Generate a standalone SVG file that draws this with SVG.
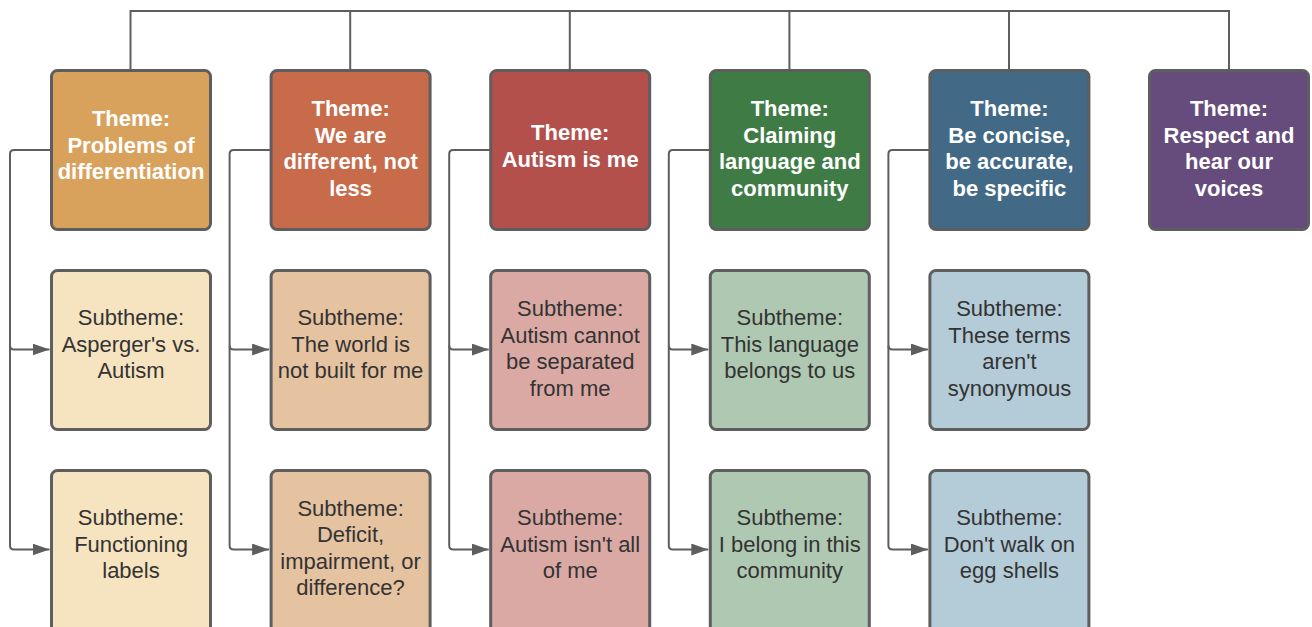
<svg xmlns="http://www.w3.org/2000/svg" width="1312" height="627" viewBox="0 0 1312 627">
<style>
.box{stroke:#5e5e5e;stroke-width:3}
.ln{fill:none;stroke:#5e5e5e;stroke-width:2}
.th{font-family:"Liberation Sans",Arial,sans-serif;font-weight:bold;font-size:22px;fill:#ffffff;text-anchor:middle}
.st{font-family:"Liberation Sans",Arial,sans-serif;font-size:22px;fill:#333333;text-anchor:middle}
</style>
<defs>
<marker id="arr" viewBox="0 0 17 12" refX="17" refY="6" markerWidth="17" markerHeight="12" markerUnits="userSpaceOnUse" orient="auto">
<path d="M0,0 L17,6 L0,12 z" fill="#5e5e5e"/>
</marker>
</defs>
<rect width="1312" height="627" fill="#ffffff"/>
<g id="connectors">
<path class="ln" d="M130.5,70 V11 H1229 V70"/>
<path class="ln" d="M350.2,11 V70 M569.8,11 V70 M789.4,11 V70 M1009,11 V70"/>
<path class="ln" d="M51,150 H14 Q10,150 10,154 V545.5 Q10,549.5 14,549.5 H49.5" marker-end="url(#arr)"/>
<path class="ln" d="M10,345.5 Q10,349.5 14,349.5 H49.5" marker-end="url(#arr)"/>
<path class="ln" d="M270.6,150 H233.6 Q229.6,150 229.6,154 V545.5 Q229.6,549.5 233.6,549.5 H269.1" marker-end="url(#arr)"/>
<path class="ln" d="M229.6,345.5 Q229.6,349.5 233.6,349.5 H269.1" marker-end="url(#arr)"/>
<path class="ln" d="M490.2,150 H453.2 Q449.2,150 449.2,154 V545.5 Q449.2,549.5 453.2,549.5 H488.7" marker-end="url(#arr)"/>
<path class="ln" d="M449.2,345.5 Q449.2,349.5 453.2,349.5 H488.7" marker-end="url(#arr)"/>
<path class="ln" d="M709.8,150 H672.8 Q668.8,150 668.8,154 V545.5 Q668.8,549.5 672.8,549.5 H708.3" marker-end="url(#arr)"/>
<path class="ln" d="M668.8,345.5 Q668.8,349.5 672.8,349.5 H708.3" marker-end="url(#arr)"/>
<path class="ln" d="M929.4,150 H892.4 Q888.4,150 888.4,154 V545.5 Q888.4,549.5 892.4,549.5 H927.9" marker-end="url(#arr)"/>
<path class="ln" d="M888.4,345.5 Q888.4,349.5 892.4,349.5 H927.9" marker-end="url(#arr)"/>
</g>
<g id="theme1">
<rect class="box" x="51.5" y="70.5" width="159" height="159" rx="6" fill="#d9a25c"/>
<text class="th" x="131" y="126">Theme:</text>
<text class="th" x="131" y="152.5">Problems of</text>
<text class="th" x="131" y="179">differentiation</text>
</g>
<g id="theme2">
<rect class="box" x="271.1" y="70.5" width="159" height="159" rx="6" fill="#c76b4b"/>
<text class="th" x="350.6" y="116">Theme:</text>
<text class="th" x="350.6" y="142.5">We are</text>
<text class="th" x="350.6" y="169">different, not</text>
<text class="th" x="350.6" y="195.5">less</text>
</g>
<g id="theme3">
<rect class="box" x="490.7" y="70.5" width="159" height="159" rx="6" fill="#b4504c"/>
<text class="th" x="570.2" y="140">Theme:</text>
<text class="th" x="570.2" y="166.5">Autism is me</text>
</g>
<g id="theme4">
<rect class="box" x="710.3" y="70.5" width="159" height="159" rx="6" fill="#3f7b45"/>
<text class="th" x="789.8" y="116">Theme:</text>
<text class="th" x="789.8" y="142.5">Claiming</text>
<text class="th" x="789.8" y="169">language and</text>
<text class="th" x="789.8" y="195.5">community</text>
</g>
<g id="theme5">
<rect class="box" x="929.9" y="70.5" width="159" height="159" rx="6" fill="#426a86"/>
<text class="th" x="1009.4" y="116">Theme:</text>
<text class="th" x="1009.4" y="142.5">Be concise,</text>
<text class="th" x="1009.4" y="169">be accurate,</text>
<text class="th" x="1009.4" y="195.5">be specific</text>
</g>
<g id="theme6">
<rect class="box" x="1149.5" y="70.5" width="159" height="159" rx="6" fill="#664b7d"/>
<text class="th" x="1229" y="116">Theme:</text>
<text class="th" x="1229" y="142.5">Respect and</text>
<text class="th" x="1229" y="169">hear our</text>
<text class="th" x="1229" y="195.5">voices</text>
</g>
<g id="sub1a">
<rect class="box" x="51.5" y="270.5" width="159" height="159" rx="6" fill="#f6e3bf"/>
<text class="st" x="131" y="325">Subtheme:</text>
<text class="st" x="131" y="351.5">Asperger's vs.</text>
<text class="st" x="131" y="378">Autism</text>
</g>
<g id="sub1b">
<rect class="box" x="51.5" y="470.5" width="159" height="170" rx="6" fill="#f6e3bf"/>
<text class="st" x="131" y="525">Subtheme:</text>
<text class="st" x="131" y="551.5">Functioning</text>
<text class="st" x="131" y="578">labels</text>
</g>
<g id="sub2a">
<rect class="box" x="271.1" y="270.5" width="159" height="159" rx="6" fill="#e5c2a0"/>
<text class="st" x="350.6" y="325">Subtheme:</text>
<text class="st" x="350.6" y="351.5">The world is</text>
<text class="st" x="350.6" y="378">not built for me</text>
</g>
<g id="sub2b">
<rect class="box" x="271.1" y="470.5" width="159" height="170" rx="6" fill="#e5c2a0"/>
<text class="st" x="350.6" y="515.5">Subtheme:</text>
<text class="st" x="350.6" y="542">Deficit,</text>
<text class="st" x="350.6" y="568.5">impairment, or</text>
<text class="st" x="350.6" y="595">difference?</text>
</g>
<g id="sub3a">
<rect class="box" x="490.7" y="270.5" width="159" height="159" rx="6" fill="#dba9a4"/>
<text class="st" x="570.2" y="316">Subtheme:</text>
<text class="st" x="570.2" y="342.5">Autism cannot</text>
<text class="st" x="570.2" y="369">be separated</text>
<text class="st" x="570.2" y="395.5">from me</text>
</g>
<g id="sub3b">
<rect class="box" x="490.7" y="470.5" width="159" height="170" rx="6" fill="#dba9a4"/>
<text class="st" x="570.2" y="525">Subtheme:</text>
<text class="st" x="570.2" y="551.5">Autism isn't all</text>
<text class="st" x="570.2" y="578">of me</text>
</g>
<g id="sub4a">
<rect class="box" x="710.3" y="270.5" width="159" height="159" rx="6" fill="#afc8b2"/>
<text class="st" x="789.8" y="325">Subtheme:</text>
<text class="st" x="789.8" y="351.5">This language</text>
<text class="st" x="789.8" y="378">belongs to us</text>
</g>
<g id="sub4b">
<rect class="box" x="710.3" y="470.5" width="159" height="170" rx="6" fill="#afc8b2"/>
<text class="st" x="789.8" y="525">Subtheme:</text>
<text class="st" x="789.8" y="551.5">I belong in this</text>
<text class="st" x="789.8" y="578">community</text>
</g>
<g id="sub5a">
<rect class="box" x="929.9" y="270.5" width="159" height="159" rx="6" fill="#b4cbd8"/>
<text class="st" x="1009.4" y="316">Subtheme:</text>
<text class="st" x="1009.4" y="342.5">These terms</text>
<text class="st" x="1009.4" y="369">aren't</text>
<text class="st" x="1009.4" y="395.5">synonymous</text>
</g>
<g id="sub5b">
<rect class="box" x="929.9" y="470.5" width="159" height="170" rx="6" fill="#b4cbd8"/>
<text class="st" x="1009.4" y="525">Subtheme:</text>
<text class="st" x="1009.4" y="551.5">Don't walk on</text>
<text class="st" x="1009.4" y="578">egg shells</text>
</g>
</svg>
